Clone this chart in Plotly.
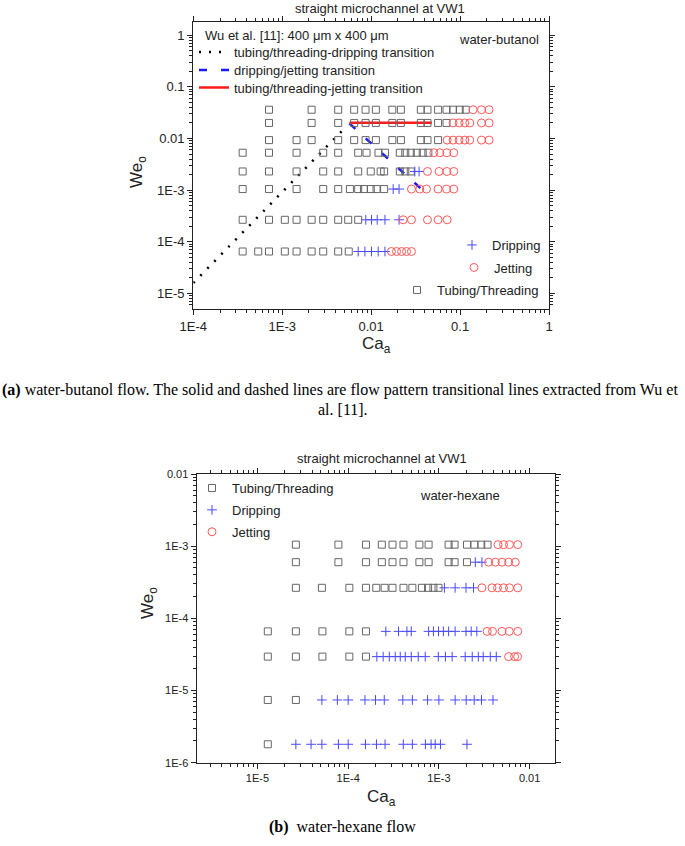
import plotly.graph_objects as go

W, H = 685, 846
SANS = "Liberation Sans, Arial, sans-serif"
SERIF = "Liberation Serif, Times New Roman, serif"
GRAY = "#666666"
BLUE = "#4a4aff"
RED = "#ff5a5a"
INK = "#222222"

# ---------------- (a) water-butanol ----------------
but_we = [0.036, 0.020, 0.0093, 0.0053, 0.0023, 0.00105, 2.67e-4, 6.5e-5]
but_tt_ca = [
    [7.1e-4, 2.14e-3, 4.26e-3, 6.44e-3, 8.65e-3, 0.0113, 0.0173, 0.0216, 0.0362, 0.043, 0.0566, 0.0704, 0.0834, 0.099, 0.116],
    [7.1e-4, 2.14e-3, 4.26e-3, 6.44e-3, 8.65e-3, 0.0113, 0.0173, 0.0216, 0.0362, 0.043, 0.0566, 0.0704],
    [7.1e-4, 1.45e-3, 2.14e-3, 4.26e-3, 6.44e-3, 8.65e-3, 0.0113, 0.0173, 0.0216, 0.0362, 0.043, 0.0566],
    [3.59e-4, 7.1e-4, 1.45e-3, 2.89e-3, 4.26e-3, 7.15e-3, 8.87e-3, 0.0121, 0.0143, 0.021, 0.0242, 0.0279, 0.0326, 0.038, 0.044],
    [3.59e-4, 7.1e-4, 1.45e-3, 2.89e-3, 4.26e-3, 7.15e-3, 9.9e-3, 0.0128, 0.014, 0.021, 0.0242, 0.0279],
    [3.59e-4, 7.1e-4, 1.45e-3, 2.89e-3, 4.26e-3, 5.77e-3, 7.15e-3, 8.3e-3, 9.9e-3, 0.0115, 0.014],
    [3.59e-4, 7.1e-4, 1.07e-3, 1.45e-3, 2.14e-3, 2.89e-3, 4.26e-3, 5.52e-3, 7.15e-3],
    [3.59e-4, 5.37e-4, 7.1e-4, 1.07e-3, 1.45e-3, 2.14e-3, 2.89e-3, 4.26e-3, 5.6e-3],
]
but_dr_ca = [
    [],
    [],
    [],
    [],
    [0.031, 0.0346],
    [0.0177, 0.0206],
    [8.7e-3, 0.0101, 0.0117, 0.0143, 0.0206],
    [7.15e-3, 8.5e-3, 0.0101, 0.012, 0.0143],
]
but_je_ca = [
    [0.14, 0.174, 0.212],
    [0.0834, 0.0975, 0.113, 0.1286, 0.174, 0.212],
    [0.0715, 0.0834, 0.0975, 0.113, 0.1286, 0.174, 0.212],
    [0.0507, 0.0592, 0.071, 0.085],
    [0.043, 0.058, 0.071, 0.085],
    [0.0284, 0.0352, 0.0419, 0.0566, 0.0704, 0.085],
    [0.0229, 0.0284, 0.043, 0.0566, 0.0715],
    [0.0169, 0.0193, 0.022, 0.025, 0.0284],
]

# transition lines from Wu et al. [11]
wu_tt_dr_ca = [1e-4, 4.7e-3]
wu_tt_dr_we = [1.6e-5, 0.0140]
wu_dr_je_ca = [5.7e-3, 0.042]
wu_dr_je_we = [0.0195, 8.5e-4]
wu_tt_je_ca = [5.7e-3, 0.048]
wu_tt_je_we = [0.0202, 0.0202]

# ---------------- (b) water-hexane ----------------
hex_we = [1.05e-3, 6.0e-4, 2.65e-4, 6.6e-5, 2.95e-5, 7.4e-6, 1.8e-6]
hex_tt_ca = [
    [2.65e-5, 7.8e-5, 1.57e-4, 2.35e-4, 3.08e-4, 4.07e-4, 6.1e-4, 7.7e-4, 1.28e-3, 1.49e-3, 2.04e-3, 2.47e-3, 2.93e-3, 3.44e-3],
    [2.65e-5, 7.8e-5, 1.57e-4, 2.35e-4, 3.08e-4, 4.07e-4, 6.1e-4, 7.7e-4, 1.28e-3, 1.49e-3, 2.04e-3],
    [2.65e-5, 5.13e-5, 1.03e-4, 1.57e-4, 2.04e-4, 2.52e-4, 3.08e-4, 4.07e-4, 5.1e-4, 6.5e-4, 7.6e-4, 8.7e-4, 9.9e-4],
    [1.3e-5, 2.65e-5, 5.2e-5, 1.03e-4, 1.57e-4],
    [1.3e-5, 2.65e-5, 5.2e-5, 1.03e-4, 1.57e-4],
    [1.3e-5, 2.65e-5],
    [1.3e-5],
]
hex_dr_ca = [
    [],
    [2.52e-3, 2.98e-3],
    [1.15e-3, 1.51e-3, 1.99e-3, 2.41e-3],
    [2.6e-4, 3.59e-4, 4.44e-4, 4.96e-4, 7.7e-4, 8.7e-4, 9.9e-4, 1.12e-3, 1.28e-3, 1.51e-3, 1.99e-3, 2.27e-3, 2.62e-3],
    [2.07e-4, 2.43e-4, 2.84e-4, 3.3e-4, 3.75e-4, 4.26e-4, 4.96e-4, 5.92e-4, 7.07e-4, 9.85e-4, 1.18e-3, 1.40e-3,
     1.95e-3, 2.33e-3, 2.72e-3, 3.08e-3, 3.68e-3, 4.29e-3],
    [5.13e-5, 7.6e-5, 1.0e-4, 1.53e-4, 2.0e-4, 2.5e-4, 4.0e-4, 5.1e-4, 7.5e-4, 1.0e-3, 1.51e-3, 2.0e-3, 2.45e-3, 2.95e-3, 3.95e-3],
    [2.65e-5, 3.9e-5, 5.13e-5, 7.8e-5, 1.0e-4, 1.55e-4, 2.05e-4, 2.55e-4, 4.05e-4, 5.1e-4, 7.1e-4, 8.2e-4, 9.1e-4, 1.04e-3, 2.04e-3],
]
hex_je_ca = [
    [4.48e-3, 5.16e-3, 6.0e-3, 7.4e-3],
    [3.53e-3, 4.19e-3, 4.96e-3, 5.87e-3, 6.95e-3],
    [2.98e-3, 3.85e-3, 4.43e-3, 5.16e-3, 6.0e-3, 7.4e-3],
    [3.4e-3, 3.9e-3, 4.96e-3, 5.97e-3, 7.4e-3],
    [5.87e-3, 6.83e-3, 7.38e-3],
    [],
    [],
]


def flat(rows, levels):
    xs, ys = [], []
    for r, lv in zip(rows, levels):
        xs += r
        ys += [lv] * len(r)
    return xs, ys


def px(x):
    return x / W


def py(y):
    return 1 - y / H


def note(text, x, y, size=13, family=SANS, xa="center", ya="middle", angle=0, color=INK):
    return dict(text=text, x=px(x), y=py(y), xref="paper", yref="paper", xanchor=xa, yanchor=ya,
                textangle=angle, showarrow=False, font=dict(family=family, size=size, color=color))


def one_item_legend(x, y):
    return dict(x=px(x), y=py(y), xanchor="left", yanchor="middle", bgcolor="rgba(0,0,0,0)",
                font=dict(size=13), itemwidth=30, visible=True)


SQ = dict(symbol="square-open", size=7, color=GRAY, line=dict(width=1, color=GRAY))
PL = dict(symbol="cross-thin-open", size=7, color=BLUE, line=dict(width=1, color=BLUE))
CI = dict(symbol="circle-open", size=8, color=RED, line=dict(width=1, color=RED))

fig = go.Figure()

# ---- top panel: transition lines ----
fig.add_trace(go.Scatter(x=wu_tt_dr_ca, y=wu_tt_dr_we, mode="lines", name="tubing/threading-dripping transition",
                         line=dict(color="black", width=2.5, dash="2px,8px"), xaxis="x", yaxis="y",
                         legend="legend8", showlegend=True))
fig.add_trace(go.Scatter(x=wu_dr_je_ca, y=wu_dr_je_we, mode="lines", name="dripping/jetting transition",
                         line=dict(color="#1a1aff", width=2.5, dash="8px,14px"), xaxis="x", yaxis="y",
                         legend="legend6", showlegend=True))
fig.add_trace(go.Scatter(x=wu_tt_je_ca, y=wu_tt_je_we, mode="lines", name="tubing/threading-jetting transition",
                         line=dict(color="#ff1a1a", width=2.5), xaxis="x", yaxis="y",
                         legend="legend7", showlegend=True))

# ---- top panel: data ----
x, y = flat(but_tt_ca, but_we)
fig.add_trace(go.Scatter(x=x, y=y, mode="markers", marker=SQ, name="Tubing/Threading", xaxis="x", yaxis="y", legend="legend4"))
x, y = flat(but_dr_ca, but_we)
fig.add_trace(go.Scatter(x=x, y=y, mode="markers", marker=PL, name="Dripping", xaxis="x", yaxis="y", legend="legend2"))
x, y = flat(but_je_ca, but_we)
fig.add_trace(go.Scatter(x=x, y=y, mode="markers", marker=CI, name="Jetting", xaxis="x", yaxis="y", legend="legend3"))

# ---- bottom panel ----
x, y = flat(hex_tt_ca, hex_we)
fig.add_trace(go.Scatter(x=x, y=y, mode="markers", marker=SQ, name="Tubing/Threading", xaxis="x2", yaxis="y2",
                         legend="legend5", legendgroup="a"))
x, y = flat(hex_dr_ca, hex_we)
fig.add_trace(go.Scatter(x=x, y=y, mode="markers", marker=PL, name="Dripping", xaxis="x2", yaxis="y2",
                         legend="legend5", legendgroup="b"))
x, y = flat(hex_je_ca, hex_we)
fig.add_trace(go.Scatter(x=x, y=y, mode="markers", marker=CI, name="Jetting", xaxis="x2", yaxis="y2",
                         legend="legend5", legendgroup="c"))

axis_common = dict(type="log", showgrid=False, zeroline=False, showline=True, linecolor=INK, linewidth=1.3,
                   mirror="allticks", ticks="outside", ticklen=5, tickwidth=1.2, tickcolor=INK,
                   tickmode="array", automargin=False,
                   minor=dict(ticks="outside", ticklen=3, tickwidth=1, tickcolor=INK, dtick="D1", showgrid=False))

fig.update_layout(
    width=W, height=H, autosize=False,
    margin=dict(l=0, r=0, t=0, b=0, pad=0, autoexpand=False),
    paper_bgcolor="white", plot_bgcolor="white",
    font=dict(family=SANS, size=12, color=INK),
    xaxis=dict(axis_common, domain=[px(193.3), px(549)], range=[-4, 0], anchor="y",
               tickvals=[1e-4, 1e-3, 0.01, 0.1, 1], ticktext=["1E-4", "1E-3", "0.01", "0.1", "1"],
               tickfont=dict(size=13)),
    yaxis=dict(axis_common, domain=[py(309), py(21.7)], range=[-5.3, 0.26], anchor="x",
               tickvals=[1e-5, 1e-4, 1e-3, 0.01, 0.1, 1], ticktext=["1E-5", "1E-4", "1E-3", "0.01", "0.1", "1"],
               tickfont=dict(size=13)),
    xaxis2=dict(axis_common, domain=[px(196.7), px(555)], range=[-5.67, -1.72], anchor="y2",
                tickvals=[1e-5, 1e-4, 1e-3, 0.01], ticktext=["1E-5", "1E-4", "1E-3", "0.01"],
                tickfont=dict(size=11)),
    yaxis2=dict(axis_common, domain=[py(762.7), py(474)], range=[-6, -2], anchor="x2",
                tickvals=[1e-6, 1e-5, 1e-4, 1e-3, 0.01], ticktext=["1E-6", "1E-5", "1E-4", "1E-3", "0.01"],
                tickfont=dict(size=11)),
    legend8=one_item_legend(194, 52),
    legend6=one_item_legend(194, 70),
    legend7=one_item_legend(194, 87.5),
    legend2=one_item_legend(452, 245),
    legend3=one_item_legend(454, 267.5),
    legend4=one_item_legend(397, 290),
    legend5=dict(x=px(192), y=py(473), xanchor="left", yanchor="top", bgcolor="rgba(0,0,0,0)",
                 font=dict(size=13), itemwidth=30, tracegroupgap=2, traceorder="grouped"),
    annotations=[
        note("straight microchannel at VW1", 380, 8),
        note("Wu et al. [11]: 400 \u03bcm x 400 \u03bcm", 203, 35, xa="left"),
        note("water-butanol", 541, 39, xa="right"),
        note("We<sub>o</sub>", 138, 172, size=17, angle=-90),
        note("Ca<sub>a</sub>", 376, 345, size=17),
        note("<b>(a)</b> water-butanol flow. The solid and dashed lines are flow pattern transitional lines extracted from Wu et",
             0, 390, size=16, family=SERIF, xa="left", color="black"),
        note("al. [11].", 342.5, 410, size=16, family=SERIF, color="black"),
        note("straight microchannel at VW1", 382, 459),
        note("water-hexane", 460, 496),
        note("We<sub>o</sub>", 149, 603, size=17, angle=-90),
        note("Ca<sub>a</sub>", 381, 798, size=17),
        note("<b>(b)</b>  water-hexane flow", 342.5, 827, size=16, family=SERIF, color="black"),
    ],
)

fig.write_html("out.html", config={"displayModeBar": False},
               post_script="document.body.style.margin='0';")
